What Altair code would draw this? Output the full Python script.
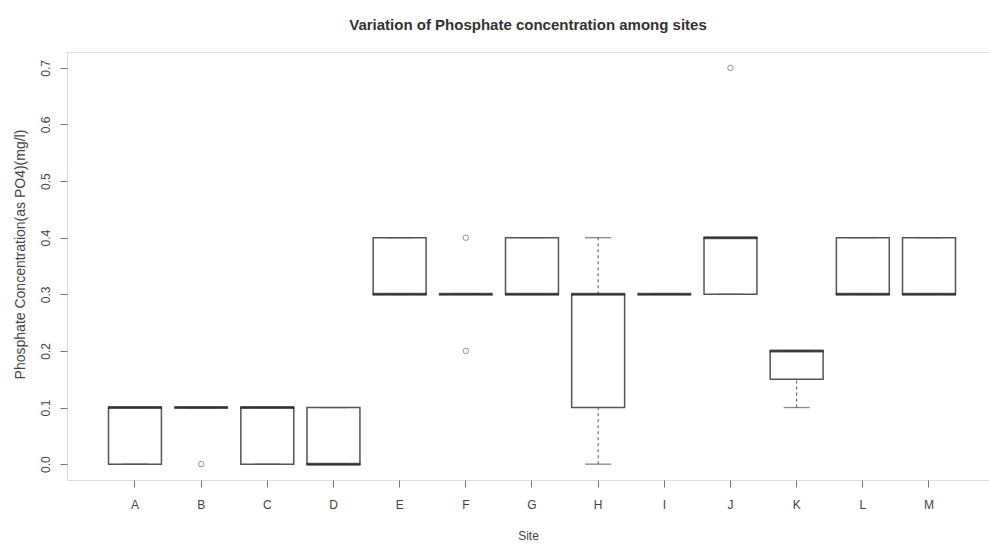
import altair as alt
import pandas as pd

# Five-number summaries of phosphate concentration (mg/l) per sampling site
sites = list("ABCDEFGHIJKLM")
q1 = [0.0, 0.1, 0.0, 0.0, 0.3, 0.3, 0.3, 0.1, 0.3, 0.3, 0.15, 0.3, 0.3]
median = [0.1, 0.1, 0.1, 0.0, 0.3, 0.3, 0.3, 0.3, 0.3, 0.4, 0.2, 0.3, 0.3]
q3 = [0.1, 0.1, 0.1, 0.1, 0.4, 0.3, 0.4, 0.3, 0.3, 0.4, 0.2, 0.4, 0.4]
whisker_low = [0.0, 0.1, 0.0, 0.0, 0.3, 0.3, 0.3, 0.0, 0.3, 0.3, 0.1, 0.3, 0.3]
whisker_high = [0.1, 0.1, 0.1, 0.1, 0.4, 0.3, 0.4, 0.4, 0.3, 0.4, 0.2, 0.4, 0.4]

# Points beyond the whiskers
outlier_site = ["B", "F", "F", "J"]
outlier_value = [0.0, 0.4, 0.2, 0.7]

y_ticks = [0.0, 0.1, 0.2, 0.3, 0.4, 0.5, 0.6, 0.7]

stats = pd.DataFrame({
    "site": sites, "q1": q1, "median": median, "q3": q3,
    "lo": whisker_low, "hi": whisker_high,
})
outliers = pd.DataFrame({"site": outlier_site, "value": outlier_value})

FONT = "Liberation Sans"
BOX = "#555555"
TXT = "#444444"

x_enc = alt.X(
    "site:N", sort=sites,
    scale=alt.Scale(paddingInner=0.2, paddingOuter=0.567, align=0.553),
    axis=alt.Axis(title="Site", labelAngle=0, domain=False, ticks=True,
                  tickSize=7, tickColor="#777777", labelPadding=12,
                  titlePadding=20, labelFontSize=12, titleFontSize=12,
                  labelColor=TXT, titleColor=TXT, labelFont=FONT,
                  titleFont=FONT, titleFontWeight="normal"),
)
y_scale = alt.Scale(domain=[-0.028, 0.728], nice=False, zero=False)
y_axis = alt.Axis(
    title="Phosphate Concentration(as PO4)(mg/l)", values=y_ticks,
    format=".1f", labelAngle=270, labelAlign="center", labelBaseline="bottom",
    domain=False, tickSize=7, tickColor="#777777", labelPadding=8,
    titlePadding=12, titleY=202, grid=False, labelFontSize=12,
    titleFontSize=14, labelColor=TXT, titleColor=TXT, labelFont=FONT,
    titleFont=FONT, titleFontWeight="normal",
)

base = alt.Chart(stats)

whisker_up = base.mark_rule(color=BOX, strokeDash=[3, 3], strokeWidth=1).encode(
    x=x_enc, y=alt.Y("q3:Q", scale=y_scale, axis=y_axis), y2="hi:Q")
whisker_down = base.mark_rule(color=BOX, strokeDash=[3, 3], strokeWidth=1).encode(
    x=x_enc, y=alt.Y("lo:Q", scale=y_scale), y2="q1:Q")

caps_hi = base.mark_tick(color=BOX, size=26, thickness=1.3).encode(
    x=x_enc, y=alt.Y("hi:Q", scale=y_scale))
caps_lo = base.mark_tick(color=BOX, size=26, thickness=1.3).encode(
    x=x_enc, y=alt.Y("lo:Q", scale=y_scale))

boxes = base.mark_bar(fill="white", stroke=BOX, strokeWidth=1.5).encode(
    x=x_enc, y=alt.Y("q1:Q", scale=y_scale), y2="q3:Q")

medians = base.mark_tick(color="#222222", size=54, thickness=3).encode(
    x=x_enc, y=alt.Y("median:Q", scale=y_scale))

points = alt.Chart(outliers).mark_point(
    shape="circle", size=30, filled=False, color="#666666", strokeWidth=1
).encode(x=x_enc, y=alt.Y("value:Q", scale=y_scale))

chart = alt.layer(
    whisker_up, whisker_down, boxes, caps_hi, caps_lo, medians, points
).properties(
    width=922, height=428,
    title=alt.Title("Variation of Phosphate concentration among sites",
                    font=FONT, fontSize=15, fontWeight="bold",
                    color="#333333", anchor="middle", offset=19),
    autosize=alt.AutoSizeParams(type="none"),
    padding={"left": 67, "top": 52, "right": 0, "bottom": 64},
).configure_view(
    stroke="#888888", strokeWidth=1.2
).configure(background="white")

chart.save("out.html", embed_options={"renderer": "svg", "actions": False})
